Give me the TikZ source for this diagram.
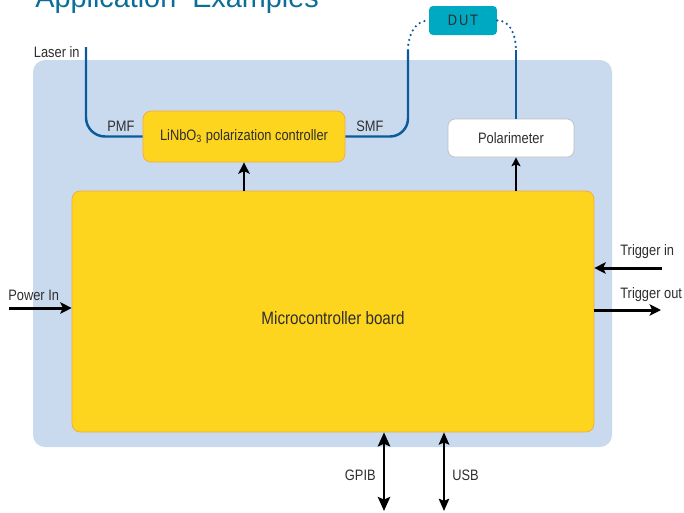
\documentclass[tikz,border=0pt]{standalone}
\usepackage{fontspec}
\setmainfont{Liberation Sans}[FakeStretch=0.85]
\newfontfamily\titlefont{Liberation Sans}
\usepackage{tikz}
\usetikzlibrary{calc}
\usetikzlibrary{positioning}
\usetikzlibrary{arrows.meta}

\definecolor{panelblue}{HTML}{C9DAEF}
\definecolor{boardyellow}{HTML}{FDD51F}
\definecolor{boardedge}{HTML}{F2A93B}
\definecolor{fiberblue}{HTML}{0B5A9A}
\definecolor{dutcyan}{HTML}{00A9C2}
\definecolor{titleblue}{HTML}{0B6E99}
\definecolor{textgrey}{HTML}{2E2E2E}

\begin{document}
\begin{tikzpicture}[x=0.02cm, y=-0.02cm,
		font=\fontsize{8.6}{10}\selectfont, text=textgrey,
		lbl/.style={inner sep=0pt},
		yellowbox/.style={draw=boardedge, fill=boardyellow, rounded corners=0.16cm, inner sep=0pt},
		fiber/.style={draw=fiberblue, line width=1.4pt},
		fiberdots/.style={fiber, line cap=round, dash pattern=on 0pt off 2.9pt},
		sig/.style={line width=1.7pt, -{Stealth[length=6.5pt,width=6.5pt,inset=1.5pt]}},
		bus/.style={line width=1.7pt, {Stealth[length=8pt,width=7pt,inset=1.5pt]}-{Stealth[length=8pt,width=7pt,inset=1.5pt]}}]
				\useasboundingbox (0,0) rectangle (684,512);
				\node[lbl, anchor=base west, font=\titlefont\fontsize{16.4}{18}\selectfont, text=titleblue] (title) at (35,7) {Application\ \ Examples};
				\fill[panelblue, rounded corners=0.24cm] (33,60) rectangle (612,447);
				
				\node[yellowbox, minimum width=10.44cm, minimum height=4.82cm] (board) at (333,311.5) {};
				\node[font=\fontsize{10.2}{12}\selectfont] (boardlbl) at ($(board.center)+(0,7)$) {Microcontroller board};
				\node[yellowbox, minimum width=4.04cm, minimum height=1.02cm] (ctrl) at (244,136.5) {LiNbO\textsubscript{3} polarization controller};
				\node[draw=black!25, fill=white, rounded corners=0.14cm, minimum width=2.52cm, minimum height=0.76cm, inner sep=0pt] (pol) at (511,138) {Polarimeter};
				\node[fill=dutcyan, rounded corners=0.08cm, minimum width=1.36cm, minimum height=0.58cm, inner sep=0pt, font=\fontsize{8.6}{10}\selectfont\addfontfeature{LetterSpace=12}] (dut) at (463,20.5) {DUT};
				
				\coordinate (laser) at (86,47);
				\coordinate (smftop) at (408,50);
				\coordinate (poltop) at (516,50);
				\draw[fiber, rounded corners=0.38cm] (laser) |- (ctrl.west);
				\draw[fiber, rounded corners=0.36cm] (ctrl.east) -| (smftop);
				\draw[fiberdots] (smftop) to[out=90, in=180] (dut.west);
				\draw[fiberdots] (dut.east) to[out=0, in=90] (poltop);
				\draw[fiber] (poltop) -- (poltop |- pol.north);
				\node[lbl, anchor=base east] (laserlbl) at (80,57) {Laser in};
				\node[lbl, anchor=base west] (pmf) at (107,131) {PMF};
				\node[lbl, anchor=base west] (smf) at (356,131) {SMF};
				
				\draw[sig]  (ctrl.south |- board.north) -- (ctrl.south);
				\draw[line width=1.1pt, -{Stealth[length=5pt,width=5pt,inset=1pt]}]  (poltop |- board.north) -- (poltop |- pol.south);
				
				\coordinate (pin) at (9,308);
				\coordinate (tin) at (662,268);
				\coordinate (tout) at (661,310);
				\coordinate (gpib) at (384,511);
				\coordinate (usb) at (444,511);
				\draw[sig]  (pin) -- (pin -| board.west);
				\draw[sig]  (tin) -- (tin -| board.east);
				\draw[sig]  (tout -| board.east) -- (tout);
				\draw[bus]  (gpib |- board.south) -- (gpib);
				\draw[line width=1.1pt, {Stealth[length=7pt,width=6pt,inset=1.2pt]}-{Stealth[length=7pt,width=6pt,inset=1.2pt]}]  (usb |- board.south) -- (usb);
				\node[lbl, anchor=base west] (pinlbl) at (8,300) {Power In};
				\node[lbl, anchor=base west] (tinlbl) at (620,255) {Trigger in};
				\node[lbl, anchor=base west] (toutlbl) at (620,298) {Trigger out};
				\node[lbl, anchor=base east] (gpiblbl) at (376,480) {GPIB};
				\node[lbl, anchor=base west] (usblbl) at (452,480) {USB};
			\end{tikzpicture}
\end{document}
